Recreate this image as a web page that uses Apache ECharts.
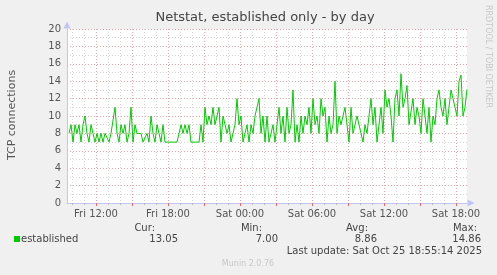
<!DOCTYPE html>
<html><head><meta charset="utf-8">
<script src="https://cdn.jsdelivr.net/npm/echarts@6/dist/echarts.min.js"></script>
<style>html,body{margin:0;padding:0;background:#f0f0f0}#c{width:497px;height:275px}</style>
</head><body><div id="c"></div>
<script>
// Data: 10-minute samples, hours since Fri 00:00
var startHour = 9 + 35/60;      // Fri 09:35
var endHour = 42 + 55/60;       // Sat 18:55
var stepHour = 10/60;
var established = [
 8,9,7,9,8,9,7,9,10,8,
 7,9,8,7,8,7,8,7,8,8,
 7,8,8,11,8,7,9,8,9,7,
 8,11,7,9,8,8,8,7,7,8,
 7,10,8,7,9,8,7,9,7,7,
 7,7,7,7,7,7,9,8,9,8,
 9,7,7,7,7,7,9,7,11,9,
 10,9,11,9,10,11,7,10,9,8,
 9,7,7,9,12,9,10,7,8,9,
 7,9,8,10,11,12,8,10,7,10,
 7,8,9,7,9,11,8,10,7,11,
 8,9,13,7,9,7,10,8,10,9,
 11,8,12,9,10,8,12,10,11,7,
 10,8,9,14,8,10,9,10,11,11,
 7,11,8,9,10,10,8,7,9,8,
 10,12,9,11,7,7,11,8,13,11,
 12,10,7,12,13,10,14.86,11,12,13.5,
 9,9,12,9,11,10,8,12,12,8,
 11,7,10,9,12,13,11,10,12,9,
 11,13,13,11,10,14,14.7,10,11,13.05
];
var minorHours = [10,11,12,13,14,15,16,17,18,19,20,21,22,23,24,25,26,27,28,29,30,31,32,33,34,35,36,37,38,39,40,41,42];
var majorHours = [12,15,18,21,24,27,30,33,36,39,42];
var labelHours = [12,18,24,30,36,42];
var legendName = 'established';
var statNames = ['Cur:','Min:','Avg:','Max:'];
var statValues = ['13.05','7.00','8.86','14.86'];
var lastUpdate = 'Last update: Sat Oct 25 18:55:14 2025';

var pts = established.map(function(v,i){ return [startHour + (i+1)*stepHour, v]; });
var FONT = 'DejaVu Sans';
var RED = '#eaa6a6', GREY = '#d6d6d6', AXIS = '#c4c4f4';
function fmt(h){ var d = h < 24 ? 'Fri' : 'Sat'; var hh = h % 24; return d + ' ' + (hh<10?'0':'') + hh + ':00'; }

var chart = echarts.init(document.getElementById('c'), null, {renderer:'canvas'});
var statX = [155,262,368,477], valX = [178,278,377,481];
var graphics = [
 {type:'text', x:265, y:18, style:{text:'Netstat, established only - by day', align:'center', verticalAlign:'middle', font:'13px "DejaVu Sans"', fill:'#444'}},
 {type:'text', x:12, y:115, rotation:Math.PI/2, style:{text:'TCP connections', align:'center', verticalAlign:'middle', font:'11px "DejaVu Sans"', fill:'#555'}},
 {type:'text', x:488, y:5, rotation:-Math.PI/2, style:{text:'RRDTOOL / TOBI OETIKER', align:'left', verticalAlign:'middle', font:'8px "DejaVu Sans"', fill:'#c8c8c8'}},
 {type:'rect', shape:{x:14, y:236, width:6, height:6}, style:{fill:'#00cc00'}},
 {type:'text', x:21, y:239.5, style:{text:legendName, align:'left', verticalAlign:'middle', font:'10px "DejaVu Sans"', fill:'#444'}},
 {type:'text', x:482, y:251, style:{text:lastUpdate, align:'right', verticalAlign:'middle', font:'10px "DejaVu Sans"', fill:'#444'}},
 {type:'text', x:248, y:264, style:{text:'Munin 2.0.76', align:'center', verticalAlign:'middle', font:'8px "DejaVu Sans"', fill:'#c8c8c8'}}
];
statNames.forEach(function(s,i){
 graphics.push({type:'text', x:statX[i], y:228, style:{text:s, align:'right', verticalAlign:'middle', font:'10px "DejaVu Sans"', fill:'#444'}});
 graphics.push({type:'text', x:valX[i], y:239.5, style:{text:statValues[i], align:'right', verticalAlign:'middle', font:'10px "DejaVu Sans"', fill:'#444'}});
});

chart.setOption({
 animation:false,
 backgroundColor:'#f0f0f0',
 textStyle:{fontFamily:FONT},
 grid:{left:67, right:30, top:29, bottom:72, show:true, backgroundColor:'#ffffff', borderWidth:0},
 xAxis:[
  {type:'value', min:startHour, max:endHour, show:false},
  {type:'value', min:startHour, max:endHour, position:'bottom',
   axisLine:{show:false}, axisLabel:{show:false},
   axisTick:{show:true, customValues:minorHours, length:2, lineStyle:{color:'#bbb'}},
   splitLine:{show:true, lineStyle:{color:GREY, type:[1,2], width:1}}},
  {type:'value', min:startHour, max:endHour, position:'bottom',
   axisLine:{show:true, symbol:['none','triangle'], symbolSize:[7,7], symbolOffset:[0,4], lineStyle:{color:AXIS, width:1}},
   axisTick:{show:true, customValues:majorHours, length:3, lineStyle:{color:'#e66'}},
   axisLabel:{show:true, customValues:labelHours, formatter:fmt, fontSize:10, color:'#555', fontFamily:FONT, margin:6},
   splitLine:{show:true, lineStyle:{color:RED, type:[1,2], width:1}}}
 ],
 yAxis:{type:'value', min:0, max:20, interval:2,
  axisLine:{show:true, symbol:['none','triangle'], symbolSize:[7,7], symbolOffset:[0,4], lineStyle:{color:AXIS, width:1}},
  axisTick:{show:false},
  axisLabel:{fontSize:10, color:'#555', fontFamily:FONT, margin:6},
  splitLine:{show:true, lineStyle:{color:RED, type:[1,2], width:1}},
  minorTick:{show:false, splitNumber:2},
  minorSplitLine:{show:true, lineStyle:{color:GREY, type:[1,2], width:1}}},
 series:[{type:'line', xAxisIndex:0, data:pts, showSymbol:false, symbol:'none',
  lineStyle:{color:'#00cc00', width:1}, z:5}],
 graphic:graphics
});
</script></body></html>
